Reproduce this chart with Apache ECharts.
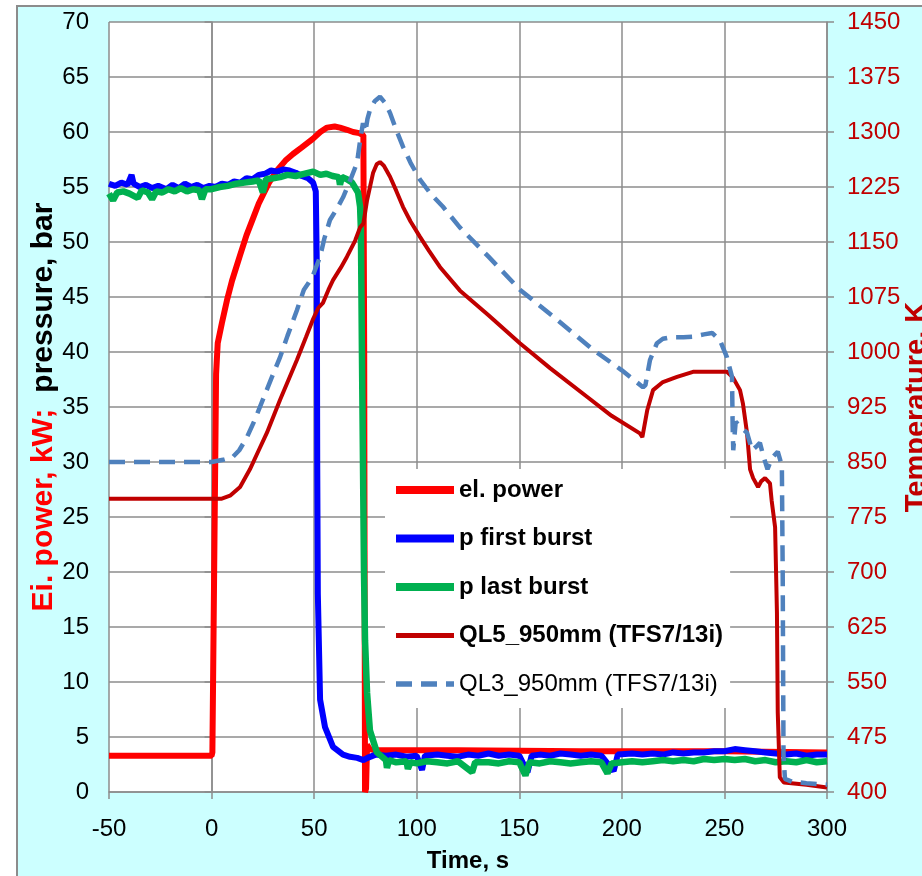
<!DOCTYPE html>
<html>
<head>
<meta charset="utf-8">
<title>Burst test</title>
<script src="https://cdn.jsdelivr.net/npm/echarts@6/dist/echarts.min.js"></script>
<style>
    body { margin: 0; background: #fff; }
    /* light cyan frame behind the chart */
    .frame {
        position: absolute; left: 16px; top: 5px; width: 906px; height: 871px;
        background: #ccffff; border-left: 2px solid #8c8c8c; border-top: 2px solid #8c8c8c;
    }
    #chart { position: absolute; left: 0; top: 0; width: 922px; height: 876px; }
</style>
</head>
<body>
<div class="frame"></div>
<div id="chart"></div>
<script>
// legend names
const names = ['el. power', 'p first burst', 'p last burst', 'QL5_950mm (TFS7/13i)', 'QL3_950mm (TFS7/13i)']

// electrical power, kW  [time s, value]
const elPower = [
    [-50, 3.3], [0, 3.3], [0.4, 3.6], [2.2, 38], [3, 40.8], [5, 42.6], [7.5, 44.7], [10, 46.5],
    [13.9, 48.8], [17, 50.6], [20.3, 52.2], [23, 53.5], [25.1, 54.3], [28, 55.4], [31.9, 56.5],
    [36, 57.4], [39.7, 58], [44, 58.6], [49.5, 59.4], [53, 60], [56.3, 60.4], [60, 60.5],
    [62.6, 60.4], [66, 60.2], [69, 60], [72, 59.9], [74, 59.7], [74.4, 40], [74.8, 0],
    [75.3, 0.3], [75.8, 4.3], [77, 3.9], [80, 3.8], [120, 3.8], [180, 3.7], [250, 3.7], [300, 3.6]
]

// pressure, first burst, bar
const pFirst = [
    [-50, 55.3], [-47, 55.1], [-44, 55.4], [-41, 55.2], [-39, 56.1], [-38, 55.3], [-35, 55.0],
    [-32, 55.2], [-29, 54.9], [-26, 55.1], [-22, 54.8], [-19, 55.2], [-16, 54.9], [-13, 55.3],
    [-10, 55.0], [-7, 55.2], [-4, 54.9], [-1, 55.1], [2, 55.0], [5, 55.3], [8, 55.2], [11, 55.5],
    [14, 55.4], [17, 55.8], [20, 55.7], [23, 56.1], [26, 56.2], [29, 56.5], [32, 56.4], [35, 56.6],
    [38, 56.5], [41, 56.3], [44, 56.0], [47, 55.8], [49.5, 55.4], [50.8, 54.6], [51.3, 48],
    [51.5, 30], [51.8, 18], [52.9, 8.4], [55.3, 5.9], [59.2, 4.1], [64.1, 3.4], [67.5, 3.2],
    [71, 3.1], [74, 2.9], [76, 3.1], [80, 3.4], [85, 3.3], [90, 3.4], [95, 3.2], [100, 3.3],
    [102.6, 2.0], [104, 3.3], [110, 3.4], [115, 3.3], [120, 3.2], [125, 3.4], [130, 3.3],
    [135, 3.5], [140, 3.3], [145, 3.4], [150, 3.3], [154, 1.8], [156, 3.3], [160, 3.4], [165, 3.3],
    [170, 3.5], [175, 3.4], [180, 3.3], [185, 3.4], [190, 3.3], [196, 1.9], [198, 3.4], [205, 3.5],
    [210, 3.4], [215, 3.5], [220, 3.4], [225, 3.6], [230, 3.5], [235, 3.6], [240, 3.6], [245, 3.7],
    [250, 3.7], [255, 3.9], [260, 3.8], [265, 3.7], [270, 3.6], [275, 3.5], [280, 3.4], [285, 3.5],
    [290, 3.3], [295, 3.4], [300, 3.4]
]

// pressure, last burst, bar
const pLast = [
    [-50, 54.4], [-48, 53.8], [-46, 54.5], [-43, 54.6], [-40, 54.4], [-36, 54.0], [-34, 54.7],
    [-31, 54.5], [-29, 53.9], [-27, 54.6], [-24, 54.5], [-21, 54.8], [-18, 54.6], [-15, 54.9],
    [-12, 54.6], [-9, 54.8], [-6, 54.7], [-4.7, 53.9], [-3, 54.8], [0, 54.8], [4, 55.0], [8, 55.1],
    [12, 55.3], [16, 55.4], [20, 55.5], [23, 55.6], [25, 54.5], [26.5, 55.7], [30, 55.8],
    [33.4, 55.9], [37, 56.1], [41, 56.0], [45, 56.2], [49.5, 56.4], [53, 56.1], [56, 56.2],
    [59, 56.0], [62, 55.9], [62.6, 55.2], [63.5, 55.9], [66, 55.7], [68.5, 55.4], [71.4, 54.5],
    [72.4, 53.2], [72.8, 51.1], [73.3, 40], [74.3, 20], [74.8, 13.8], [75.8, 9], [77.2, 5.6],
    [80.6, 3.6], [85, 2.9], [85.5, 2.2], [86.5, 2.9], [90, 2.7], [95, 2.8], [95.7, 2.1], [97, 2.7],
    [100, 2.6], [105, 2.8], [110, 2.7], [115, 2.6], [120, 2.8], [127, 1.8], [128.5, 2.7], [135, 2.7],
    [140, 2.6], [145, 2.8], [150, 2.7], [153, 1.5], [155, 2.7], [160, 2.6], [165, 2.8], [170, 2.7],
    [175, 2.6], [180, 2.7], [185, 2.8], [190, 2.7], [193, 1.7], [195, 2.6], [200, 2.7], [205, 2.8],
    [210, 2.7], [215, 2.8], [220, 2.9], [225, 2.8], [230, 2.9], [235, 2.8], [240, 3.0], [245, 2.9],
    [250, 3.0], [255, 2.9], [260, 3.0], [265, 2.8], [270, 2.9], [275, 2.7], [280, 2.8], [285, 2.7],
    [290, 2.9], [295, 2.7], [300, 2.8]
]

// thermocouple QL5, K
const ql5 = [
    [-50, 800], [0, 800], [5, 800], [9, 804], [13.9, 816], [18.7, 840], [23, 866], [27, 890],
    [33.4, 935], [41.6, 989], [46, 1020], [49.5, 1045], [52, 1060], [54.3, 1067], [57, 1085],
    [59.2, 1098], [63, 1115], [66, 1130], [70, 1152], [72.4, 1170], [74, 1175], [75.8, 1207],
    [78.7, 1244], [80.5, 1256], [82.1, 1259], [84, 1254], [87, 1239], [90, 1220], [93.3, 1198],
    [97, 1178], [101.6, 1157], [106, 1138], [111.3, 1116], [121, 1084], [135, 1050], [150.3, 1012],
    [165, 978], [183, 939], [195, 913], [208.8, 889], [210, 884], [212.4, 921], [215.2, 948],
    [220, 959], [226.9, 966], [234.7, 973], [246.4, 973], [251.2, 973], [254.2, 965], [257.6, 948],
    [259, 930], [261, 890], [262.5, 840], [264, 828], [266.4, 816], [268, 824], [269.8, 828],
    [272.2, 821], [273, 798], [274.7, 761], [275.6, 644], [276, 508], [277, 420], [279, 413],
    [290, 410], [300, 406]
]

// thermocouple QL3, K
const ql3 = [
    [-50, 850], [0, 850], [5.6, 853], [10.4, 857], [13.5, 866], [17.3, 884], [21, 907], [25, 935],
    [29, 963], [33.4, 993], [37, 1022], [41.6, 1057], [45, 1085], [47, 1093], [49.5, 1105],
    [52.9, 1130], [55, 1155], [57.7, 1180], [61, 1195], [64.1, 1211], [67, 1230], [70.9, 1258],
    [72.5, 1290], [73.8, 1312], [75, 1300], [76, 1318], [77.2, 1330], [79.5, 1342], [82.1, 1348],
    [84.5, 1340], [87, 1326], [90, 1303], [93.3, 1280], [97, 1258], [101.6, 1235], [107, 1215],
    [112.8, 1198], [121, 1170], [135, 1130], [150.3, 1085], [168, 1045], [186, 1003], [200, 975],
    [210.3, 952], [211.5, 955], [213.7, 989], [217.1, 1012], [220, 1018], [223.5, 1020],
    [230, 1020], [234.7, 1021], [240, 1024], [244, 1026], [247.8, 1016], [251.2, 993],
    [253.7, 966], [254, 900], [254.3, 866], [255.5, 905], [258, 897], [261, 890], [263.5, 866],
    [265.9, 872], [267.3, 876], [269, 858], [271, 840], [273, 855], [276, 864], [278, 845],
    [278.4, 700], [278.8, 450], [279.5, 418], [283, 414], [290, 412], [300, 410]
]

// axis ticks
const timeTicks = { min: -50, max: 300, step: 50 }
const leftTicks = { min: 0, max: 70, step: 5 }
const rightTicks = { min: 400, max: 1450, step: 75 }

const font = "'Liberation Sans', Arial, sans-serif"
const gridGray = '#8c8c8c'

let mychart = echarts.init(document.getElementById('chart'))
mychart.setOption({
    animation: false,
    textStyle: { fontFamily: font },
    grid: {
        left: 109, right: 95, top: 22, bottom: 84,
        outerBoundsMode: 'none',
        show: true, backgroundColor: '#fff', borderWidth: 0
    },
    legend: {
        orient: 'vertical',
        left: 385,
        top: 469,
        padding: [9, 7, 12, 7],
        backgroundColor: '#fff',
        itemWidth: 58,
        itemHeight: 26,
        itemGap: 24.5,
        // hide the circle that v6 adds to line legend icons
        itemStyle: { opacity: 0 },
        textStyle: { fontSize: 24, fontWeight: 'bold', color: '#000', fontFamily: font },
        data: [
            { name: names[0], lineStyle: { width: 8 } },
            { name: names[1], lineStyle: { width: 8 } },
            { name: names[2], lineStyle: { width: 8 } },
            { name: names[3], lineStyle: { width: 5 } },
            { name: names[4], lineStyle: { width: 5.5 }, textStyle: { fontWeight: 'normal' } }
        ]
    },
    xAxis: {
        type: 'value',
        min: timeTicks.min, max: timeTicks.max, interval: timeTicks.step,
        name: 'Time, s',
        nameLocation: 'middle',
        nameMoveOverlap: false,
        nameGap: 57,
        nameTextStyle: { fontSize: 24, fontWeight: 'bold', color: '#000' },
        axisLine: { lineStyle: { color: gridGray, width: 1.5 } },
        axisTick: { length: 7, lineStyle: { color: gridGray, width: 1.5 } },
        axisLabel: { fontSize: 24, color: '#000', margin: 25 },
        splitLine: { lineStyle: { color: gridGray, width: 1.5 } }
    },
    yAxis: [
        {
            type: 'value',
            min: leftTicks.min, max: leftTicks.max, interval: leftTicks.step,
            name: '{a|Ei. power, kW;}{b|pressure, bar}',
            nameLocation: 'middle',
            nameRotate: 90,
            nameMoveOverlap: false,
            nameGap: 50,
            nameTextStyle: {
                rich: {
                    a: { fontSize: 30, fontWeight: 'bold', color: '#ff0000', fontFamily: font, padding: [0, 16, 0, 0] },
                    b: { fontSize: 30, fontWeight: 'bold', color: '#000', fontFamily: font }
                }
            },
            axisLine: { show: true, lineStyle: { color: gridGray, width: 1.5 } },
            axisTick: { show: true, length: 7, lineStyle: { color: gridGray, width: 1.5 } },
            axisLabel: { fontSize: 24, color: '#000', margin: 20 },
            splitLine: { lineStyle: { color: gridGray, width: 1.5 } }
        },
        {
            type: 'value',
            position: 'right',
            min: rightTicks.min, max: rightTicks.max, interval: rightTicks.step,
            name: 'Temperature, K',
            nameLocation: 'middle',
            nameRotate: 90,
            nameMoveOverlap: false,
            nameGap: 75,
            nameTextStyle: { fontSize: 29, fontWeight: 'bold', color: '#c00000' },
            axisLine: { show: true, lineStyle: { color: gridGray, width: 1.5 } },
            axisTick: { show: true, length: 7, lineStyle: { color: gridGray, width: 1.5 } },
            axisLabel: { fontSize: 24, color: '#c00000', margin: 20, formatter: v => String(v) },
            splitLine: { show: false }
        }
    ],
    series: [
        {
            name: names[0], type: 'line', data: elPower, symbol: 'none',
            lineStyle: { color: '#ff0000', width: 6 }, itemStyle: { color: '#ff0000' }, z: 2
        },
        {
            name: names[1], type: 'line', data: pFirst, symbol: 'none',
            lineStyle: { color: '#0000ff', width: 6 }, itemStyle: { color: '#0000ff' }, z: 3
        },
        {
            name: names[2], type: 'line', data: pLast, symbol: 'none',
            lineStyle: { color: '#00b050', width: 6.5 }, itemStyle: { color: '#00b050' }, z: 4
        },
        {
            name: names[3], type: 'line', yAxisIndex: 1, data: ql5, symbol: 'none',
            lineStyle: { color: '#c00000', width: 4 }, itemStyle: { color: '#c00000' }, z: 5
        },
        {
            name: names[4], type: 'line', yAxisIndex: 1, data: ql3, symbol: 'none',
            lineStyle: { color: '#4f81bd', width: 4.5, type: [16, 9] }, itemStyle: { color: '#4f81bd' }, z: 6
        }
    ]
})
</script>
</body>
</html>
